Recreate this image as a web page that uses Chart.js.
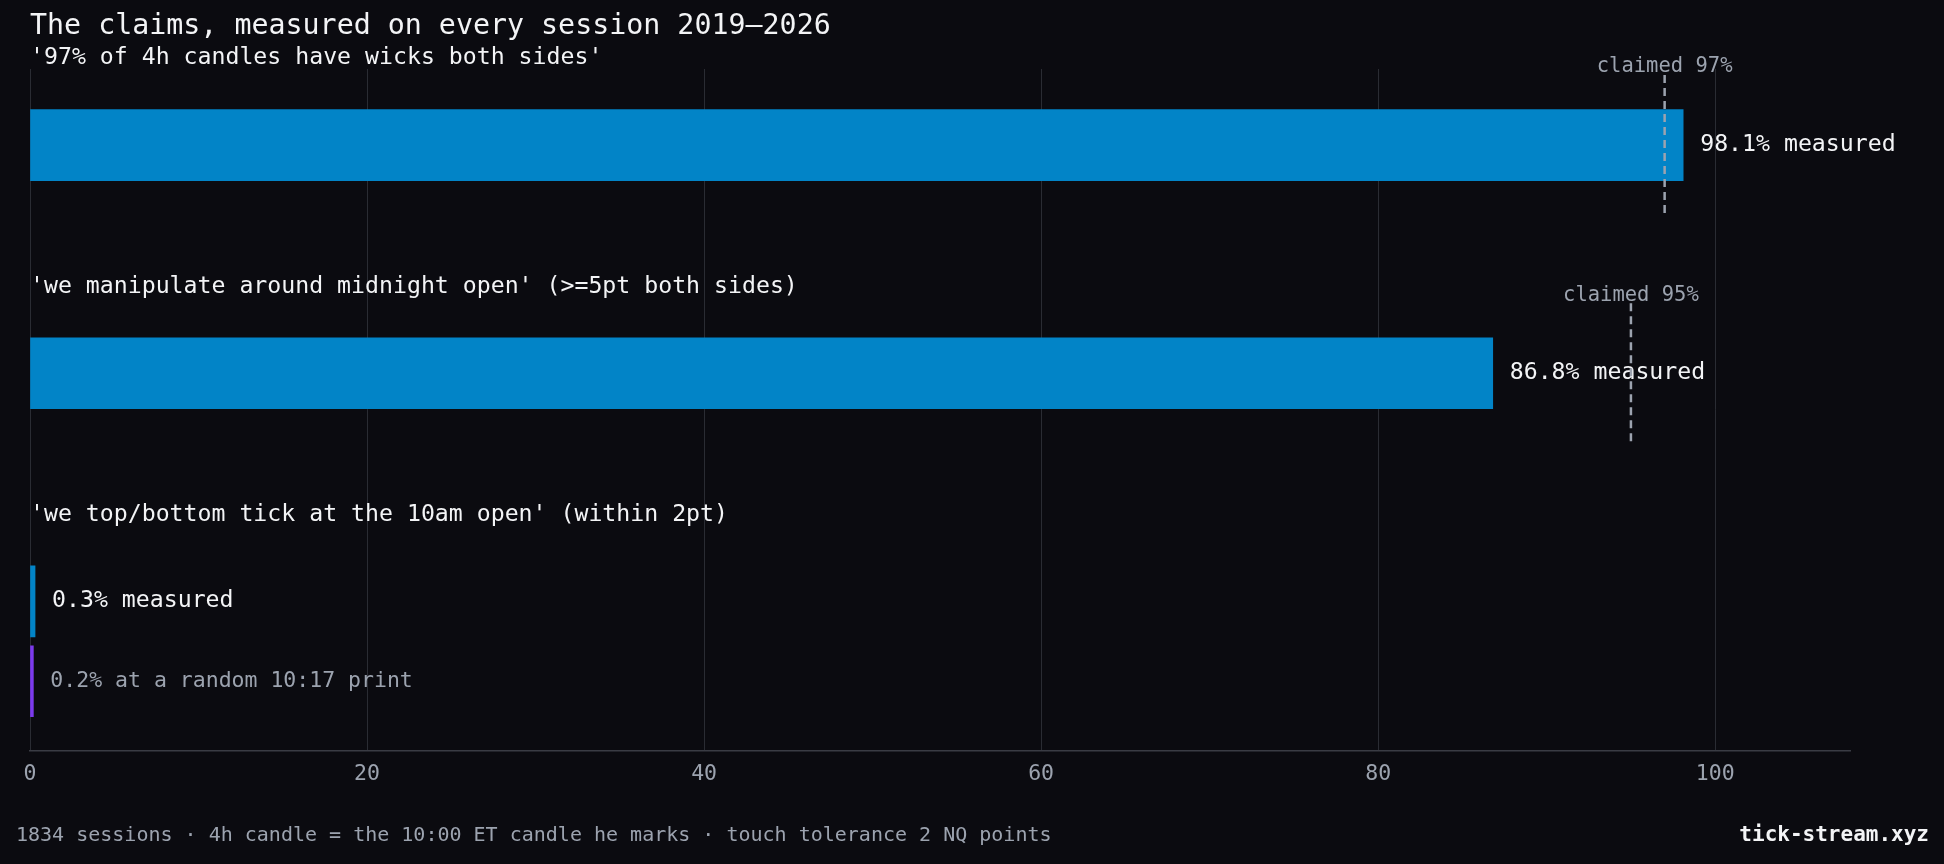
<!DOCTYPE html>
<html><head><meta charset="utf-8">
<script src="https://cdn.jsdelivr.net/npm/chart.js@4/dist/chart.umd.min.js"></script>
<style>html,body{margin:0;background:#0b0b10;}#w{width:1944px;height:864px;}</style>
</head><body><div id="w"><canvas id="c"></canvas></div>
<script>
const claims = ["'97% of 4h candles have wicks both sides'", "'we manipulate around midnight open' (>=5pt both sides)", "'we top/bottom tick at the 10am open' (within 2pt)"];
const measured = [98.1, 86.8, 0.3];
const claimed = [97, 95, null];
const randomBaseline = [0.2];
const rowPos = [1, 4, 7, 8.05];
const xTicks = [0, 20, 40, 60, 80, 100];
const F = '"DejaVu Sans Mono", monospace';

const data = [
  {x: measured[0], y: rowPos[0]},
  {x: measured[1], y: rowPos[1]},
  {x: measured[2], y: rowPos[2]},
  {x: randomBaseline[0], y: rowPos[3]}
];

const overlay = {
  id: 'overlay',
  afterDraw(chart) {
    const ctx = chart.ctx, xs = chart.scales.x, ys = chart.scales.y;
    ctx.save();
    ctx.textBaseline = 'middle';
    ctx.fillStyle = '#f3f4f6';
    ctx.font = '28.3px ' + F;
    ctx.fillText('The claims, measured on every session 2019\u20132026', 30, 27);
    ctx.font = '23.2px ' + F;
    const catY = [58, 287, 515];
    claims.forEach((t, i) => ctx.fillText(t, 30, catY[i]));
    for (let i = 0; i < 3; i++) {
      ctx.fillStyle = '#f3f4f6';
      ctx.font = '23.2px ' + F;
      ctx.fillText(measured[i].toFixed(1) + '% measured', xs.getPixelForValue(measured[i]) + 17, ys.getPixelForValue(rowPos[i]));
    }
    ctx.fillStyle = '#9ca3af';
    ctx.font = '21.5px ' + F;
    ctx.fillText(randomBaseline[0].toFixed(1) + '% at a random 10:17 print', xs.getPixelForValue(randomBaseline[0]) + 17, ys.getPixelForValue(rowPos[3]));
    for (let i = 0; i < 3; i++) {
      if (claimed[i] == null) continue;
      const x = xs.getPixelForValue(claimed[i]), yc = ys.getPixelForValue(rowPos[i]);
      ctx.strokeStyle = '#9ca3af'; ctx.lineWidth = 2.5; ctx.setLineDash([8, 5]);
      ctx.beginPath(); ctx.moveTo(x, yc - 70); ctx.lineTo(x, yc + 70); ctx.stroke();
      ctx.setLineDash([]);
      ctx.fillStyle = '#9ca3af'; ctx.font = '20.5px ' + F; ctx.textAlign = 'center';
      ctx.fillText('claimed ' + claimed[i] + '%', x, yc - 78);
      ctx.textAlign = 'left';
    }
    ctx.fillStyle = '#9ca3af'; ctx.font = '20px ' + F;
    ctx.fillText('1834 sessions \u00b7 4h candle = the 10:00 ET candle he marks \u00b7 touch tolerance 2 NQ points', 16, 836);
    ctx.fillStyle = '#f3f4f6'; ctx.font = 'bold 21px ' + F; ctx.textAlign = 'right';
    ctx.fillText('tick-stream.xyz', 1929, 836);
    ctx.restore();
  }
};

new Chart(document.getElementById('c'), {
  type: 'bar',
  data: { datasets: [{
    data: data,
    backgroundColor: ['#0284c7', '#0284c7', '#0284c7', '#7c3aed'],
    barThickness: 71,
    borderWidth: 0
  }]},
  options: {
    indexAxis: 'y',
    responsive: true, maintainAspectRatio: false, animation: false,
    layout: { padding: { left: 30, right: 94, top: 69, bottom: 67 } },
    plugins: { legend: { display: false }, tooltip: { enabled: false } },
    scales: {
      x: {
        type: 'linear', min: 0, max: 108, z: 1,
        afterBuildTicks: s => { s.ticks = xTicks.map(v => ({value: v})); },
        grid: { color: 'rgba(70,72,80,0.55)', lineWidth: 1, drawTicks: false },
        border: { color: '#3a3c44', width: 1.5 },
        ticks: { color: '#9ca3af', font: { family: F, size: 21.5 }, padding: 10 }
      },
      y: { type: 'linear', min: 0, max: 8.97, reverse: true, display: false, offset: false }
    }
  },
  plugins: [overlay]
});
</script></body></html>
